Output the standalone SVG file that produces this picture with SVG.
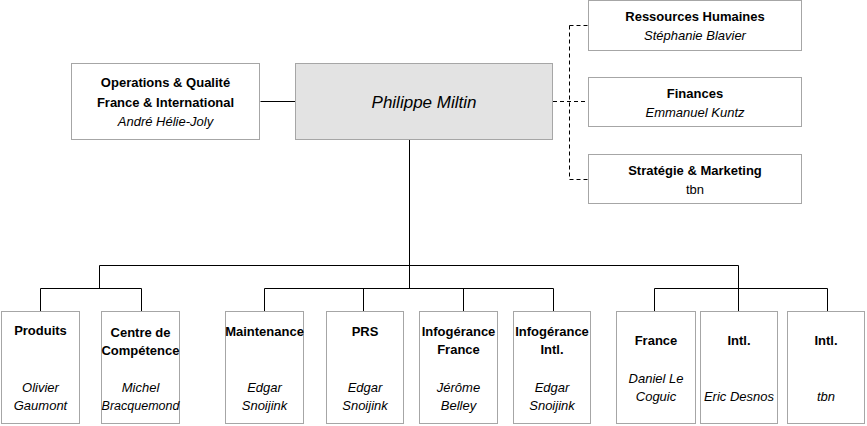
<svg xmlns="http://www.w3.org/2000/svg" width="867" height="426" viewBox="0 0 867 426">
<style>
.box{fill:#ffffff;stroke:#a6a6a6;stroke-width:1}
.main{fill:#e3e3e3;stroke:#a6a6a6;stroke-width:1}
.ln{fill:none;stroke:#000;stroke-width:1}
.dash{fill:none;stroke:#000;stroke-width:1;stroke-dasharray:4,3}
text{font-family:"Liberation Sans",Arial,sans-serif;font-size:13px;fill:#000;text-anchor:middle}
.b{font-weight:bold}
.i{font-style:italic}
.big{font-size:17px;font-style:italic}
</style>
<rect width="867" height="426" fill="#ffffff"/>
<g id="connectors">
<path class="ln" d="M260.5,101.5H295.5"/>
<path class="ln" d="M409.5,139.5V288.5"/>
<path class="ln" d="M99.5,265.5H738.5"/>
<path class="ln" d="M99.5,265.5V288.5M40.5,288.5H141.5M40.5,288.5V311M141.5,288.5V311"/>
<path class="ln" d="M264.5,288.5H553.5M264.5,288.5V311M363.5,288.5V311M463.5,288.5V311M553.5,288.5V311"/>
<path class="ln" d="M738.5,265.5V288.5M654.5,288.5H827.5M654.5,288.5V311M738.5,288.5V311M827.5,288.5V311"/>
<path class="dash" d="M553,101.5H588M569.5,25.5V179.5M569.5,25.5H588M569.5,179.5H588"/>
</g>
<g id="main">
<rect class="main" x="295.5" y="63.5" width="257" height="76"/>
<text class="big" x="424" y="108">Philippe Miltin</text>
</g>
<g id="ops">
<rect class="box" x="71.5" y="63.5" width="188" height="76"/>
<text class="b" x="165.5" y="87">Operations &amp; Qualité</text>
<text class="b" x="165.5" y="107">France &amp; International</text>
<text class="i" x="165.5" y="126">André Hélie-Joly</text>
</g>
<g id="rh">
<rect class="box" x="588.5" y="0.5" width="213" height="50"/>
<text class="b" x="695" y="21">Ressources Humaines</text>
<text class="i" x="695" y="40">Stéphanie Blavier</text>
</g>
<g id="finances">
<rect class="box" x="588.5" y="77.5" width="213" height="49"/>
<text class="b" x="695" y="98">Finances</text>
<text class="i" x="695" y="117">Emmanuel Kuntz</text>
</g>
<g id="strategie">
<rect class="box" x="588.5" y="154.5" width="213" height="49"/>
<text class="b" x="695" y="175">Stratégie &amp; Marketing</text>
<text x="695" y="194">tbn</text>
</g>
<g id="produits">
<rect class="box" x="1.5" y="311.5" width="78" height="112"/>
<text class="b" x="40.5" y="335">Produits</text>
<text class="i" x="40.5" y="392">Olivier</text>
<text class="i" x="40.5" y="410">Gaumont</text>
</g>
<g id="centre">
<rect class="box" x="101.5" y="311.5" width="78" height="112"/>
<text class="b" x="140.5" y="337">Centre de</text>
<text class="b" x="140.5" y="355">Compétence</text>
<text class="i" x="140.5" y="392">Michel</text>
<text class="i" x="140.5" y="410" style="font-size:12.5px">Bracquemond</text>
</g>
<g id="maintenance">
<rect class="box" x="225.5" y="311.5" width="78" height="112"/>
<text class="b" x="264.5" y="336">Maintenance</text>
<text class="i" x="264.5" y="392">Edgar</text>
<text class="i" x="264.5" y="410">Snoijink</text>
</g>
<g id="prs">
<rect class="box" x="326.5" y="311.5" width="77" height="112"/>
<text class="b" x="365" y="336">PRS</text>
<text class="i" x="365" y="392">Edgar</text>
<text class="i" x="365" y="410">Snoijink</text>
</g>
<g id="infog-france">
<rect class="box" x="419.5" y="311.5" width="78" height="112"/>
<text class="b" x="458.5" y="336">Infogérance</text>
<text class="b" x="458.5" y="354">France</text>
<text class="i" x="458.5" y="392">Jérôme</text>
<text class="i" x="458.5" y="410">Belley</text>
</g>
<g id="infog-intl">
<rect class="box" x="513.5" y="311.5" width="77" height="112"/>
<text class="b" x="552" y="336">Infogérance</text>
<text class="b" x="552" y="354">Intl.</text>
<text class="i" x="552" y="392">Edgar</text>
<text class="i" x="552" y="410">Snoijink</text>
</g>
<g id="france">
<rect class="box" x="616.5" y="311.5" width="79" height="112"/>
<text class="b" x="656" y="345">France</text>
<text class="i" x="656" y="383">Daniel Le</text>
<text class="i" x="656" y="401">Coguic</text>
</g>
<g id="intl">
<rect class="box" x="700.5" y="311.5" width="77" height="112"/>
<text class="b" x="739" y="345">Intl.</text>
<text class="i" x="739" y="401">Eric Desnos</text>
</g>
<g id="intl-tbn">
<rect class="box" x="787.5" y="311.5" width="77" height="112"/>
<text class="b" x="826" y="345">Intl.</text>
<text class="i" x="826" y="401">tbn</text>
</g>
</svg>
